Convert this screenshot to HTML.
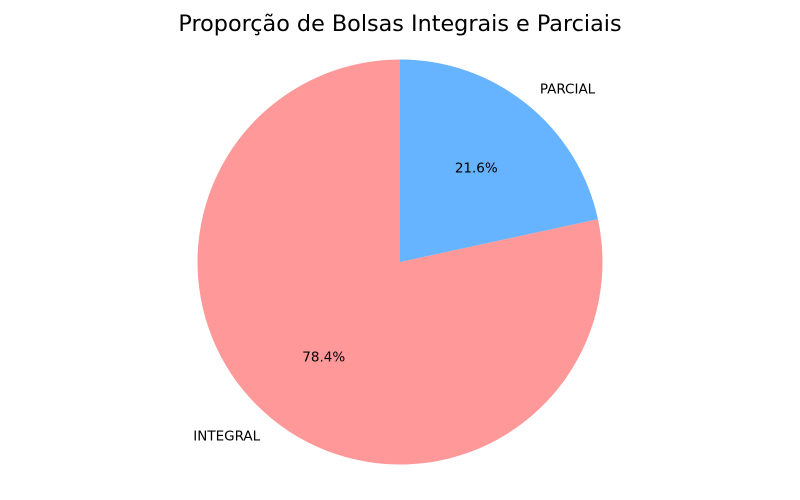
<!DOCTYPE html>
<html><head><meta charset="utf-8"><style>
body{margin:0;background:#fff;}
svg{display:block;font-family:"DejaVu Sans","Liberation Sans",sans-serif;}
</style></head><body>
<svg id="chart" width="800" height="500">
<text x="400" y="31" text-anchor="middle" font-size="22.3" fill="#000">Proporção de Bolsas Integrais e Parciais</text>
<g id="slices"></g>
</svg>
<script>
const categories = ["INTEGRAL", "PARCIAL"];
const values = [78.4, 21.6];
const colors = ["#ff9999", "#66b3ff"];
const cx = 400, cy = 262, r = 202.5;
const g = document.getElementById('slices');
const ns = "http://www.w3.org/2000/svg";
const total = values.reduce((a, b) => a + b, 0);
let start = 90;
values.forEach((v, i) => {
  const sweep = v / total * 360;
  const end = start + sweep;
  const a0 = start * Math.PI / 180, a1 = end * Math.PI / 180;
  const x0 = cx + r * Math.cos(a0), y0 = cy - r * Math.sin(a0);
  const x1 = cx + r * Math.cos(a1), y1 = cy - r * Math.sin(a1);
  const large = sweep > 180 ? 1 : 0;
  const p = document.createElementNS(ns, 'path');
  p.setAttribute('d', `M${cx},${cy} L${x0},${y0} A${r},${r} 0 ${large} 0 ${x1},${y1} Z`);
  p.setAttribute('fill', colors[i]);
  
  
  g.appendChild(p);
  const mid = (start + sweep / 2) * Math.PI / 180;
  const lx = cx + 1.1 * r * Math.cos(mid), ly = cy - 1.1 * r * Math.sin(mid);
  const t = document.createElementNS(ns, 'text');
  t.setAttribute('x', lx); t.setAttribute('y', ly + 5);
  t.setAttribute('font-size', '13.5');
  t.setAttribute('text-anchor', Math.cos(mid) < 0 ? 'end' : 'start');
  t.textContent = categories[i];
  
  
  g.appendChild(t);
  const px = cx + 0.6 * r * Math.cos(mid), py = cy - 0.6 * r * Math.sin(mid);
  const pt = document.createElementNS(ns, 'text');
  pt.setAttribute('x', px); pt.setAttribute('y', py + 5);
  pt.setAttribute('font-size', '13.5');
  pt.setAttribute('text-anchor', 'middle');
  pt.textContent = (v / total * 100).toFixed(1) + '%';
  
  
  g.appendChild(pt);
  start = end;
});
</script>
</body></html>
